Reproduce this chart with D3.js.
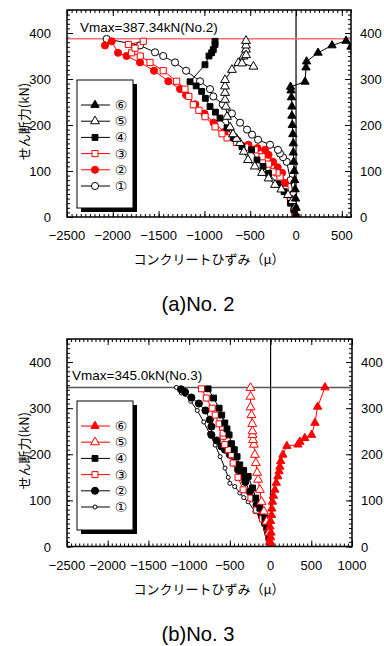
<!DOCTYPE html>
<html><head><meta charset="utf-8">
<script src="https://cdn.jsdelivr.net/npm/d3@7/dist/d3.min.js"></script>
<style>
body{margin:0;background:#fff;}
svg{display:block;}
text{font-family:"Liberation Sans",Arial,sans-serif;}
.jp{font-family:"Noto Sans CJK JP",sans-serif;}
.cn{font-family:"DejaVu Sans",sans-serif;}
</style></head><body>
<svg id="c" width="384" height="646"></svg>
<script>
// ---------- DATA (strain μ, shear kN) ----------
const xTicksA = [-2500,-2000,-1500,-1000,-500,0,500];
const xTicksB = [-2500,-2000,-1500,-1000,-500,0,500,1000];
const yTicks = [0,100,200,300,400];
const legendLabels = ["⑥","⑤","④","③","②","①"];
const vmaxA = 387.34, vmaxB = 345.0;

// No.2
const a6 = [[0,0],[0,20],[-5,40],[-10,60],[-15,80],[-20,100],[-25,120],[-30,140],[-30,160],[-35,180],[-40,200],[-45,220],[-45,240],[-50,260],[-55,275],[-60,283],[98,294],[109,325],[115,338],[240,357],[393,373],[546,383],[600,370],[640,360]];
const a5 = [[0,0],[-15,20],[-40,35],[-87,48],[-160,60],[-229,70],[-300,84],[-371,96],[-450,110],[-524,124],[-570,142],[-611,161],[-650,170],[-688,180],[-720,195],[-753,218],[-765,240],[-775,255],[-775,270],[-775,284],[-775,298],[-700,320],[-630,335],[-575,349],[-546,364],[-546,373],[-546,383],[-545,352],[-590,334],[-465,327]];
const a4 = [[0,0],[-20,15],[-60,30],[-130,55],[-200,72],[-300,95],[-360,110],[-426,124],[-485,146],[-590,153],[-680,172],[-753,194],[-830,215],[-880,228],[-939,240],[-990,258],[-1030,273],[-1090,285],[-1157,294],[-994,331],[-950,350],[-921,357],[-903,364],[-884,375],[-884,382]];
const a3 = [[0,0],[-20,15],[-60,35],[-120,60],[-175,87],[-207,96],[-251,98],[-300,115],[-371,131],[-448,146],[-550,152],[-650,162],[-753,172],[-808,181],[-884,196],[-993,218],[-1060,232],[-1121,244],[-1170,262],[-1212,278],[-1303,295],[-1450,318],[-1594,336],[-1700,350],[-1794,357],[-1758,367],[-1830,375],[-1667,382]];
const a2 = [[0,0],[-20,15],[-60,40],[-120,74],[-153,96],[-200,108],[-251,120],[-300,135],[-338,146],[-420,150],[-520,157],[-650,168],[-780,185],[-900,205],[-1000,225],[-1100,245],[-1200,265],[-1266,278],[-1394,295],[-1550,318],[-1703,336],[-1850,350],[-1943,357],[-2012,382],[-2085,373]];
const a1 = [[0,0],[-10,20],[-30,50],[-60,80],[-102,120],[-142,130],[-175,138],[-197,146],[-284,157],[-415,168],[-480,179],[-535,190],[-611,205],[-700,225],[-800,245],[-903,262],[-939,278],[-1048,295],[-1200,318],[-1321,336],[-1450,350],[-1539,358],[-1703,373],[-2067,387]];

// No.3
const b6 = [[0,0],[-5,10],[0,20],[5,30],[-8,43],[0,55],[12,68],[15,82],[24,97],[35,110],[53,123],[70,138],[90,152],[105,163],[114,173],[125,185],[151,199],[200,218],[336,221],[360,227],[420,235],[504,242],[545,268],[578,303],[668,345]];
const b5 = [[0,0],[-10,10],[-20,30],[-49,54],[-82,76],[-111,97],[-132,123],[-153,145],[-165,160],[-181,181],[-193,199],[-205,221],[-215,231],[-221,242],[-222,250],[-225,266],[-235,285],[-246,302],[-246,325],[-246,344]];
const b4 = [[0,0],[-20,20],[-45,42],[-70,62],[-132,83],[-181,105],[-222,127],[-275,152],[-330,165],[-378,177],[-411,195],[-445,210],[-480,223],[-509,242],[-535,255],[-562,268],[-600,285],[-632,300],[-700,322],[-767,342]];
const b3 = [[0,0],[-20,18],[-50,40],[-100,60],[-172,79],[-242,105],[-337,123],[-400,150],[-460,181],[-480,199],[-520,210],[-562,221],[-583,239],[-583,246],[-591,259],[-632,266],[-680,285],[-718,300],[-790,322],[-849,342]];
const b2 = [[0,0],[-30,30],[-70,50],[-111,68],[-172,90],[-255,119],[-310,140],[-357,152],[-398,166],[-450,182],[-500,199],[-560,210],[-603,217],[-660,230],[-726,242],[-726,260],[-746,275],[-800,295],[-880,310],[-972,323],[-1050,335],[-1100,341]];
const b1 = [[0,0],[-20,20],[-60,45],[-120,62],[-193,76],[-275,97],[-330,106],[-377,116],[-440,130],[-500,137],[-520,150],[-560,170],[-620,195],[-680,220],[-750,245],[-820,270],[-900,295],[-980,315],[-1050,330],[-1095,333],[-1156,345]];

// ---------- DRAW ----------
const svg = d3.select("#c");
const RED = "#ff0000";

function panel(cfg){
  const {L,R,T,B,xdom,xticks,series,vmax,vcolor,vtext,vtx,legT,legB,legY0,caption,capY,id} = cfg;
  const x = d3.scaleLinear().domain(xdom).range([L,R]);
  const y = d3.scaleLinear().domain([0,450]).range([B,T]);
  const g = svg.append("g");
  g.append("clipPath").attr("id","clip"+id).append("rect").attr("x",L).attr("y",T).attr("width",R-L).attr("height",B-T);

  const xMinor = d3.range(xdom[0], xdom[1]+1, 50);
  const yMinor = d3.range(0, 451, 10);
  const mk = (axisFn, scale, vals, size, tr) => {
    const a = axisFn(scale).tickValues(vals).tickSize(size).tickFormat("");
    const gg = g.append("g").attr("transform",tr).call(a);
    gg.select(".domain").remove();
    gg.selectAll("line").attr("stroke","#000").attr("stroke-width",1);
  };
  mk(d3.axisBottom, x, xMinor, -3, `translate(0,${B})`);
  mk(d3.axisBottom, x, xticks, -6, `translate(0,${B})`);
  mk(d3.axisTop, x, xMinor, -3, `translate(0,${T})`);
  mk(d3.axisTop, x, xticks, -6, `translate(0,${T})`);
  mk(d3.axisLeft, y, yMinor, -3, `translate(${L},0)`);
  mk(d3.axisLeft, y, yTicks, -6, `translate(${L},0)`);
  mk(d3.axisRight, y, yMinor, -3, `translate(${R},0)`);
  mk(d3.axisRight, y, yTicks, -6, `translate(${R},0)`);

  g.selectAll(".xl").data(xticks).join("text").attr("x",d=>x(d)).attr("y",B+23)
    .attr("text-anchor","middle").attr("font-size",13).attr("fill","#000")
    .text(d=> d<0 ? "\u2212"+Math.abs(d) : d);
  g.selectAll(".yl").data(yTicks).join("text").attr("x",L-16).attr("y",d=>y(d)+5)
    .attr("text-anchor","end").attr("font-size",13).text(d=>d);
  g.selectAll(".yr").data(yTicks).join("text").attr("x",R+9).attr("y",d=>y(d)+5)
    .attr("text-anchor","start").attr("font-size",13).text(d=>d);

  g.append("line").attr("x1",x(0)).attr("x2",x(0)).attr("y1",T).attr("y2",B).attr("stroke","#000").attr("stroke-width",1.2);
  g.append("line").attr("x1",L).attr("x2",R).attr("y1",y(vmax)).attr("y2",y(vmax)).attr("stroke",vcolor).attr("stroke-width",1.5);
  g.append("text").attr("x",vtx).attr("y",y(vmax)-7).attr("font-size",13.5).text(vtext);

  const pg = g.append("g").attr("clip-path",`url(#clip${id})`);
  const line = d3.line().x(d=>x(d[0])).y(d=>y(d[1]));
  series.slice().reverse().forEach(s=>{
    pg.append("path").attr("d",line(s.data)).attr("fill","none").attr("stroke",s.lc).attr("stroke-width",1);
  });
  series.slice().reverse().forEach(s=>{
    pg.selectAll(null).data(s.data).join("path")
      .attr("transform",d=>`translate(${x(d[0])},${y(d[1])})`)
      .attr("d",d3.symbol().type(s.sym).size(s.size)())
      .attr("fill",s.fill).attr("stroke",s.stroke).attr("stroke-width",1);
  });

  g.append("rect").attr("x",L).attr("y",T).attr("width",R-L).attr("height",B-T).attr("fill","none").attr("stroke","#000").attr("stroke-width",1.5);

  // legend
  g.append("rect").attr("x",81).attr("y",legT+4).attr("width",56).attr("height",legB-legT).attr("fill","#000");
  g.append("rect").attr("x",77).attr("y",legT).attr("width",56).attr("height",legB-legT).attr("fill","#fff").attr("stroke","#000").attr("stroke-width",1);
  series.forEach((s,i)=>{
    const yy = legY0 + i*16.2;
    g.append("line").attr("x1",81).attr("x2",110).attr("y1",yy).attr("y2",yy).attr("stroke",s.lc).attr("stroke-width",1);
    g.append("path").attr("transform",`translate(95,${yy})`).attr("d",d3.symbol().type(s.sym).size(s.size)())
      .attr("fill",s.fill).attr("stroke",s.stroke).attr("stroke-width",1);
    g.append("text").attr("class","cn").attr("x",121).attr("y",yy+5).attr("text-anchor","middle").attr("font-size",13.8).text(legendLabels[i]);
  });

  g.append("text").attr("class","jp").attr("x",209).attr("y",B+47).attr("text-anchor","middle").attr("font-size",13).text("コンクリートひずみ（μ）");
  const ymid = (T+B)/2 + 8;
  g.append("text").attr("class","jp").attr("transform",`translate(29,${ymid}) rotate(-90)`).attr("text-anchor","middle").attr("font-size",13).text("せん断力(kN)");
  g.append("text").attr("x",198).attr("y",capY).attr("text-anchor","middle").attr("font-size",21)
    .attr("textLength",73).attr("lengthAdjust","spacingAndGlyphs")
    .attr("style","font-family:'Liberation Sans',sans-serif").text(caption);
}

const TRI = d3.symbolTriangle, SQ = d3.symbolSquare, CIR = d3.symbolCircle;

panel({id:"A",L:67,R:351,T:10,B:217,xdom:[-2500,600],xticks:xTicksA,vmax:vmaxA,vcolor:"#f07070",
  vtext:"Vmax=387.34kN(No.2)",vtx:80,legT:80,legB:208,legY0:105,caption:"(a)No. 2",capY:311,
  series:[
    {data:a6,sym:TRI,size:30,fill:"#000",stroke:"#000",lc:"#000"},
    {data:a5,sym:TRI,size:34,fill:"#fff",stroke:"#000",lc:"#000"},
    {data:a4,sym:SQ,size:34,fill:"#000",stroke:"#000",lc:"#000"},
    {data:a3,sym:SQ,size:38,fill:"#fff",stroke:RED,lc:RED},
    {data:a2,sym:CIR,size:40,fill:RED,stroke:RED,lc:RED},
    {data:a1,sym:CIR,size:40,fill:"#fff",stroke:"#000",lc:"#000"}
  ]});

panel({id:"B",L:67,R:352,T:339,B:546.5,xdom:[-2500,1000],xticks:xTicksB,vmax:vmaxB,vcolor:"#555",
  vtext:"Vmax=345.0kN(No.3)",vtx:72,legT:401,legB:530,legY0:426,caption:"(b)No. 3",capY:641,
  series:[
    {data:b6,sym:TRI,size:30,fill:RED,stroke:RED,lc:RED},
    {data:b5,sym:TRI,size:34,fill:"#fff",stroke:RED,lc:RED},
    {data:b4,sym:SQ,size:34,fill:"#000",stroke:"#000",lc:"#000"},
    {data:b3,sym:SQ,size:36,fill:"#fff",stroke:RED,lc:RED},
    {data:b2,sym:CIR,size:40,fill:"#000",stroke:"#000",lc:"#000"},
    {data:b1,sym:CIR,size:13,fill:"#fff",stroke:"#000",lc:"#000"}
  ]});
</script>
</body></html>
